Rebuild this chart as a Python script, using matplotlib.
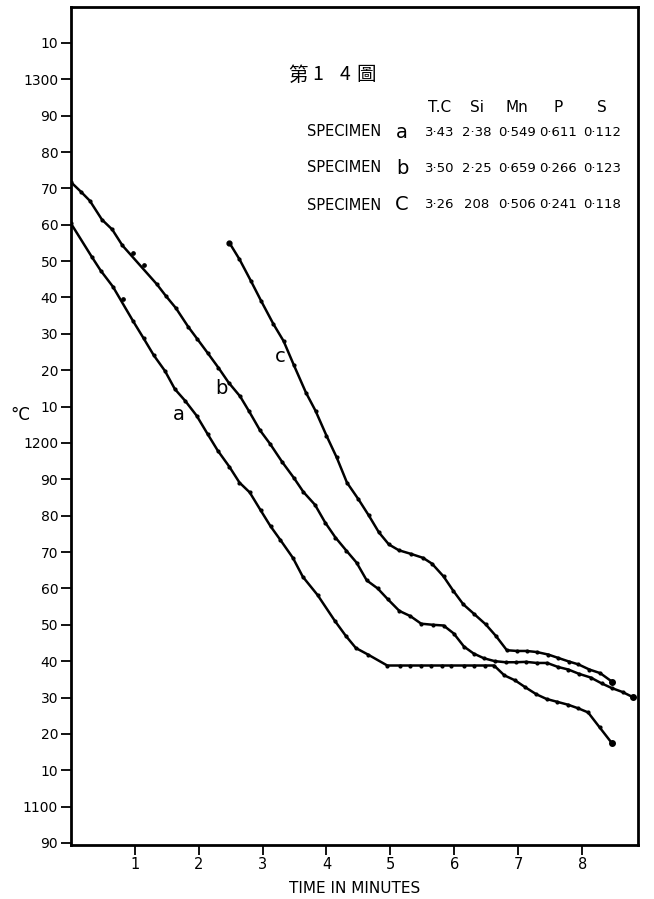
import matplotlib
matplotlib.use("Agg")
import matplotlib.pyplot as plt

# cooling curves (time in minutes, temperature in deg C)
a_time = [0, 0.33, 0.47, 0.66, 0.98, 1.14, 1.30, 1.475, 1.63, 1.79, 1.97, 2.14, 2.30, 2.48,
          2.64, 2.80, 2.97, 3.125, 3.28, 3.475, 3.63, 3.86, 4.13, 4.30, 4.46, 4.65, 4.95,
          5.15, 5.31, 5.48, 5.64, 5.81, 5.95, 6.15, 6.31, 6.48, 6.62,
          6.78, 6.95, 7.11, 7.28, 7.44, 7.61, 7.78, 7.94, 8.09, 8.27, 8.46]
a_temp = [1260.5, 1251.2, 1247.4, 1243.0, 1233.4, 1228.8, 1224.1, 1219.8, 1214.8, 1211.6,
          1207.5, 1202.5, 1197.9, 1193.5, 1189.1, 1186.4, 1181.5, 1177.1, 1173.3, 1168.4,
          1163.2, 1158.2, 1151.1, 1147.0, 1143.6, 1141.8, 1138.8,
          1138.8, 1138.8, 1138.8, 1138.8, 1138.8, 1138.8, 1138.8, 1138.8, 1138.8, 1138.8,
          1136.1, 1134.7, 1132.8, 1130.9, 1129.6, 1128.8, 1128.0, 1127.0, 1125.9, 1121.8, 1117.5]

b_time = [0, 0.16, 0.30, 0.49, 0.65, 0.81, 1.345, 1.49, 1.645, 1.84, 1.98, 2.14, 2.31, 2.47,
          2.65, 2.79, 2.96, 3.12, 3.31, 3.49, 3.64, 3.82, 3.98, 4.14, 4.31, 4.47, 4.63, 4.80,
          4.96, 5.14, 5.31, 5.48, 5.66, 5.83, 5.99, 6.15, 6.30, 6.46, 6.63, 6.80, 6.96, 7.12,
          7.29, 7.45, 7.62, 7.78, 7.95, 8.13, 8.30, 8.46, 8.63, 8.79]
b_temp = [1271.8, 1269.1, 1266.6, 1261.4, 1258.7, 1254.3, 1243.7, 1240.4, 1237.1, 1231.9,
          1228.6, 1224.8, 1220.7, 1216.6, 1212.8, 1208.7, 1203.5, 1199.7, 1194.7, 1190.4,
          1186.5, 1183.0, 1178.1, 1174.0, 1170.4, 1167.1, 1162.2, 1160.0, 1157.0, 1153.8,
          1152.4, 1150.3, 1150.0, 1149.8, 1147.6, 1144.0, 1142.1, 1140.8, 1140.0, 1139.7,
          1139.7, 1139.8, 1139.5, 1139.5, 1138.4, 1137.7, 1136.5, 1135.5, 1133.9, 1132.6,
          1131.5, 1130.1]

c_time = [2.48, 2.64, 2.82, 2.98, 3.17, 3.33, 3.49, 3.68, 3.83, 4.00, 4.16, 4.32, 4.50, 4.66,
          4.82, 4.975, 5.13, 5.32, 5.51, 5.65, 5.83, 5.98, 6.14, 6.30, 6.49, 6.65, 6.82, 6.98,
          7.13, 7.29, 7.47, 7.62, 7.79, 7.94, 8.11, 8.28, 8.46]
c_temp = [1255.1, 1250.5, 1244.5, 1239.0, 1232.7, 1228.0, 1221.4, 1213.8, 1208.8, 1202.0,
          1196.0, 1189.1, 1184.5, 1180.1, 1175.4, 1172.1, 1170.5, 1169.5, 1168.4, 1166.8,
          1163.3, 1159.4, 1155.6, 1153.1, 1150.1, 1146.9, 1143.0, 1142.8, 1142.8, 1142.5,
          1141.8, 1140.9, 1139.9, 1139.1, 1137.7, 1136.7, 1134.4]

# readings that sit a little off the drawn line
stray_time = [0.82, 0.98, 1.14]
stray_temp = [1239.7, 1252.1, 1248.9]

# curve letters and where they are written
curve_names = ["a", "b", "c"]
name_time = [1.69, 2.35, 3.27]
name_temp = [1207.7, 1215.0, 1223.9]

# analysis table
columns = ["T.C", "Si", "Mn", "P", "S"]
specimens = ["a", "b", "C"]
analysis = [["3·43", "2·38", "0·549", "0·611", "0·112"],
            ["3·50", "2·25", "0·659", "0·266", "0·123"],
            ["3·26", "208", "0·506", "0·241", "0·118"]]

title_chars = ["第", "1", "4", "圖"]

x_ticks = [1, 2, 3, 4, 5, 6, 7, 8]
y_ticks = list(range(1090, 1320, 10))
y_labels = [str(v) if v % 100 == 0 else str(v % 100) for v in y_ticks]

W, H = 654, 899
fig = plt.figure(figsize=(W / 100, H / 100), dpi=100)
ax = fig.add_axes([0.108, 0.0603, 0.8675, 0.9324])

for t, y in [(a_time, a_temp), (b_time, b_temp), (c_time, c_temp)]:
    ax.plot(t, y, color="black", lw=1.8, marker="o", ms=2.0, solid_joinstyle="round")
    ax.plot(t[-1], y[-1], "o", color="black", ms=4)
ax.plot(c_time[0], c_temp[0], "o", color="black", ms=3.5)
ax.plot(stray_time, stray_temp, "o", color="black", ms=2.4, lw=0)

for name, t, y in zip(curve_names, name_time, name_temp):
    ax.text(t, y, name, fontsize=14, ha="center", va="center")

ax.set_xlim(0, 8.87)
ax.set_ylim(1089.5, 1320)
ax.set_xticks(x_ticks)
ax.set_xticklabels([str(v) for v in x_ticks], fontsize=10.5)
ax.set_yticks(y_ticks)
ax.set_yticklabels(y_labels, fontsize=10)
ax.tick_params(direction="out", length=7, width=1.3, pad=2)
for s in ax.spines.values():
    s.set_linewidth(2)

ax.set_xlabel("TIME IN MINUTES", fontsize=11, labelpad=6)
fig.text(20 / W, 1 - 415 / H, "°C", fontsize=12, ha="center", va="center")

# title and analysis table (pixel positions from the plate)
def px(x, y):
    return x / W, 1 - y / H

for cx, ch in zip([298, 318, 345, 366], title_chars):
    fig.text(*px(cx, 75), ch, fontsize=14, ha="center", va="center",
             family=["Noto Sans CJK TC", "DejaVu Sans"])
col_x = [440, 477, 517, 558, 602]
for cx, name in zip(col_x, columns):
    fig.text(*px(cx, 108), name, fontsize=11, ha="center", va="center")
for row_y, spec, vals in zip([132, 168, 205], specimens, analysis):
    fig.text(*px(307, row_y), "SPECIMEN", fontsize=10.5, ha="left", va="center")
    fig.text(*px(402, row_y), spec, fontsize=14, ha="center", va="center")
    for cx, v in zip(col_x, vals):
        fig.text(*px(cx, row_y), v, fontsize=9.5, ha="center", va="center")

fig.savefig("out.png", dpi=100)
